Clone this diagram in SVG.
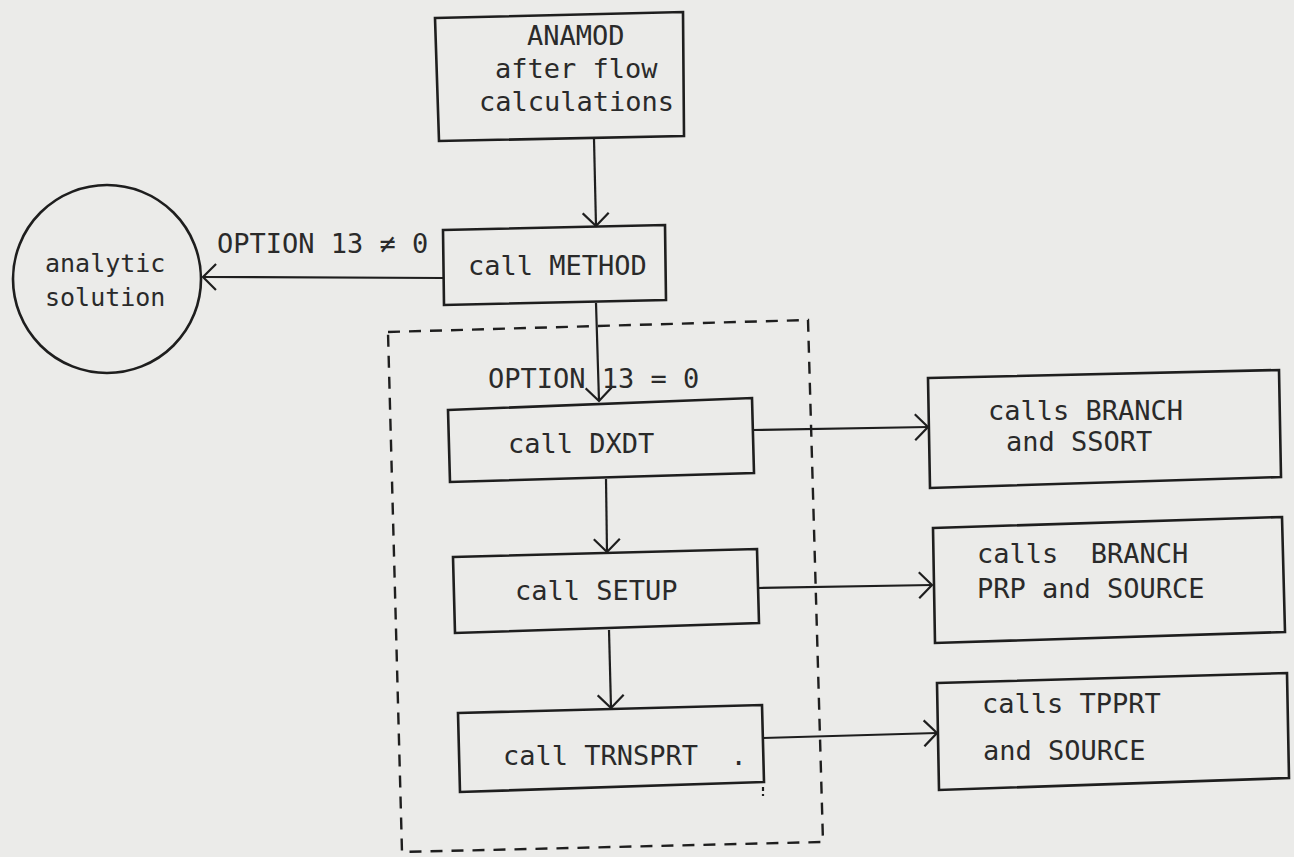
<svg xmlns="http://www.w3.org/2000/svg" width="1294" height="857" viewBox="0 0 1294 857">
<defs>
<style>
.bg{fill:#ebebe9}
.box{fill:none;stroke:#1e1e1e;stroke-width:2.6;stroke-linejoin:miter}
.ln{fill:none;stroke:#1e1e1e;stroke-width:2.2}
.dash{fill:none;stroke:#1e1e1e;stroke-width:2.4;stroke-dasharray:12 9}
text{font-family:"DejaVu Sans Mono","Liberation Mono",monospace;font-size:27px;fill:#2a2a2a;white-space:pre}
</style>
<marker id="arr" markerUnits="userSpaceOnUse" viewBox="-16 -14 18 28" refX="0" refY="0" markerWidth="18" markerHeight="28" orient="auto">
<path d="M-13,-13 L0,0 L-13,13" fill="none" stroke="#1e1e1e" stroke-width="2.2"/>
</marker>
</defs>
<rect class="bg" x="0" y="0" width="1294" height="857"/>

<g id="group-option0">
<polygon class="dash" points="388,332 808,320 823,842 402,852"/>
</g>

<g id="connectors">
<line class="ln" x1="594" y1="139" x2="596" y2="226" marker-end="url(#arr)"/>
<line class="ln" x1="443" y1="278" x2="203" y2="277" marker-end="url(#arr)"/>
<line class="ln" x1="596" y1="303" x2="599" y2="401" marker-end="url(#arr)"/>
<line class="ln" x1="606" y1="479" x2="607" y2="552" marker-end="url(#arr)"/>
<line class="ln" x1="609" y1="630" x2="611" y2="708" marker-end="url(#arr)"/>
<line class="ln" x1="753" y1="430" x2="928" y2="427" marker-end="url(#arr)"/>
<line class="ln" x1="758" y1="588" x2="932" y2="585" marker-end="url(#arr)"/>
<line class="ln" x1="763" y1="738" x2="937" y2="733" marker-end="url(#arr)"/>
<line class="ln" x1="763" y1="787" x2="763" y2="796" stroke-dasharray="4 3"/>
<text x="217" y="253">OPTION 13 ≠ 0</text>
<text x="488" y="388">OPTION 13 = 0</text>
</g>

<g id="anamod">
<polygon class="box" points="435,18 683,12 684,136 439,141"/>
<text x="527" y="45">ANAMOD</text>
<text x="495" y="78">after flow</text>
<text x="479" y="111">calculations</text>
</g>

<g id="method">
<polygon class="box" points="443,230 665,225 666,300 444,305"/>
<text x="468" y="275">call METHOD</text>
</g>

<g id="analytic">
<circle class="box" cx="107" cy="279" r="94"/>
<text x="45" y="272" style="font-size:25px">analytic</text>
<text x="45" y="306" style="font-size:25px">solution</text>
</g>

<g id="dxdt">
<polygon class="box" points="448,410 752,398 754,473 450,482"/>
<text x="508" y="453">call DXDT</text>
</g>

<g id="setup">
<polygon class="box" points="453,557 757,549 759,623 455,633"/>
<text x="515" y="600">call SETUP</text>
</g>

<g id="trnsprt">
<polygon class="box" points="458,713 762,705 764,782 460,792"/>
<text x="503" y="765" xml:space="preserve">call TRNSPRT  .</text>
</g>

<g id="branch-ssort">
<polygon class="box" points="928,378 1279,370 1281,477 930,488"/>
<text x="988" y="420">calls BRANCH</text>
<text x="1006" y="451">and SSORT</text>
</g>

<g id="branch-prp-source">
<polygon class="box" points="933,528 1282,517 1285,632 935,643"/>
<text x="977" y="563" xml:space="preserve">calls  BRANCH</text>
<text x="977" y="598">PRP and SOURCE</text>
</g>

<g id="tpprt-source">
<polygon class="box" points="937,683 1287,673 1289,778 939,790"/>
<text x="982" y="713">calls TPPRT</text>
<text x="983" y="760">and SOURCE</text>
</g>
</svg>
